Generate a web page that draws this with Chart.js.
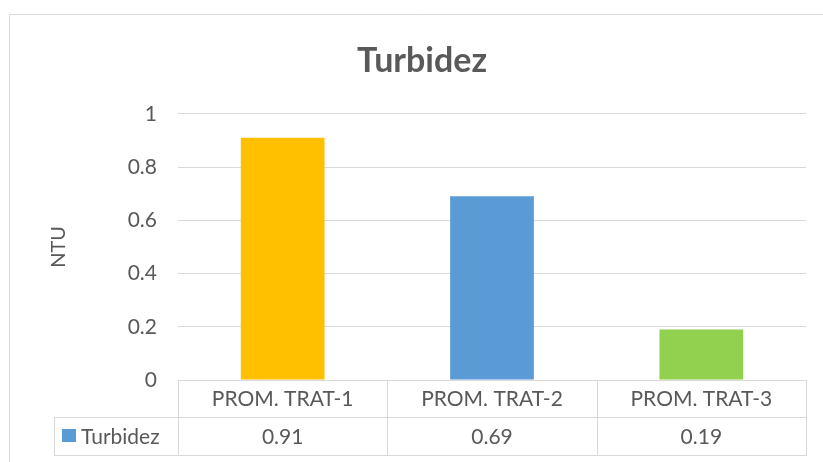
<!DOCTYPE html>
<html>
<head>
<meta charset="utf-8">
<title>Turbidez</title>
<script src="https://cdn.jsdelivr.net/npm/chart.js@4.4.1/dist/chart.umd.min.js"></script>
<style>
  html, body { margin: 0; padding: 0; background: #ffffff; }
  #wrap { width: 823px; height: 462px; position: relative; }
</style>
</head>
<body>
<div id="wrap"><canvas id="chart" width="823" height="462"></canvas></div>
<script>
// Treatment averages of turbidity (NTU)
const categories = ['PROM. TRAT-1', 'PROM. TRAT-2', 'PROM. TRAT-3'];
const turbidez = [0.91, 0.69, 0.19];
const valueLabels = ['0.91', '0.69', '0.19'];
const barColors = ['#FFC000', '#5B9BD5', '#92D050'];
const seriesName = 'Turbidez';
const seriesColor = '#5B9BD5';
const yTickValues = [0, 0.2, 0.4, 0.6, 0.8, 1];
const yTickLabels = ['0', '0.2', '0.4', '0.6', '0.8', '1'];

const FONT = "Lato, 'Open Sans', sans-serif";
const TEXT = '#595959';
const LINE = '#D9D9D9';

// Outer frame of the chart object
const framePlugin = {
  id: 'frame',
  beforeDraw(chart) {
    const ctx = chart.ctx;
    ctx.save();
    ctx.strokeStyle = LINE;
    ctx.lineWidth = 1;
    ctx.beginPath();
    ctx.moveTo(9.5, chart.height);
    ctx.lineTo(9.5, 14.5);
    ctx.lineTo(chart.width, 14.5);
    ctx.stroke();
    ctx.restore();
  }
};

// Data table under the plot: category row, then legend key + values row
const dataTablePlugin = {
  id: 'dataTable',
  afterDraw(chart) {
    const ctx = chart.ctx;
    const area = chart.chartArea;
    const x = chart.scales.x;
    const n = categories.length;
    const cellW = (area.right - area.left) / n;
    const top = area.bottom;
    const mid = top + 37;
    const bottom = top + 75;
    const tableLeft = 54;

    ctx.save();
    ctx.strokeStyle = LINE;
    ctx.lineWidth = 1;
    ctx.beginPath();
    // horizontal rules
    ctx.moveTo(area.left, top + 0.5); ctx.lineTo(area.right, top + 0.5);
    ctx.moveTo(tableLeft, mid + 0.5); ctx.lineTo(area.right, mid + 0.5);
    ctx.moveTo(tableLeft, bottom + 0.5); ctx.lineTo(area.right, bottom + 0.5);
    // vertical rules
    ctx.moveTo(tableLeft + 0.5, mid); ctx.lineTo(tableLeft + 0.5, bottom + 1);
    for (let i = 0; i <= n; i++) {
      const xx = Math.round(area.left + i * cellW) + 0.5;
      ctx.moveTo(xx, top); ctx.lineTo(xx, bottom + 1);
    }
    ctx.stroke();

    ctx.fillStyle = TEXT;
    ctx.font = '21px ' + FONT;
    ctx.textAlign = 'center';
    ctx.textBaseline = 'middle';
    for (let i = 0; i < n; i++) {
      const cx = x.getPixelForValue(i);
      ctx.fillText(categories[i], cx, (top + mid) / 2 + 1);
      ctx.fillText(valueLabels[i], cx, (mid + bottom) / 2 + 1);
    }
    // legend key
    ctx.fillStyle = seriesColor;
    ctx.fillRect(62, mid + 12, 14, 13);
    ctx.fillStyle = TEXT;
    ctx.textAlign = 'left';
    ctx.fillText(seriesName, 81, (mid + bottom) / 2 + 1);
    ctx.restore();
  }
};

new Chart(document.getElementById('chart'), {
  type: 'bar',
  data: {
    labels: categories,
    datasets: [{
      label: seriesName,
      data: turbidez,
      backgroundColor: barColors,
      borderWidth: 0,
      categoryPercentage: 1,
      barPercentage: 0.4
    }]
  },
  options: {
    responsive: false,
    animation: false,
    devicePixelRatio: 1,
    layout: { padding: { left: 38, right: 17, top: 0, bottom: 82 } },
    plugins: {
      legend: { display: false },
      tooltip: { enabled: false },
      title: {
        display: true,
        text: 'Turbidez',
        color: TEXT,
        font: { family: FONT, size: 34, weight: 'bold', lineHeight: 1.2 },
        padding: { top: 41, bottom: 32 }
      }
    },
    scales: {
      x: {
        display: false,
        grid: { display: false }
      },
      y: {
        min: yTickValues[0],
        max: yTickValues[yTickValues.length - 1],
        afterBuildTicks(scale) {
          scale.ticks = yTickValues.map(v => ({ value: v }));
        },
        ticks: {
          color: TEXT,
          padding: 21,
          font: { family: FONT, size: 21 },
          callback(value) {
            const i = yTickValues.indexOf(value);
            return i >= 0 ? yTickLabels[i] : '';
          }
        },
        grid: { color: LINE, lineWidth: 1, drawTicks: false },
        border: { display: false },
        title: {
          display: true,
          text: 'NTU',
          color: TEXT,
          font: { family: FONT, size: 20 },
          padding: { top: 9, bottom: 0 }
        },
        afterFit(scale) { scale.width = 140; }
      }
    }
  },
  plugins: [framePlugin, dataTablePlugin]
});
</script>
</body>
</html>
